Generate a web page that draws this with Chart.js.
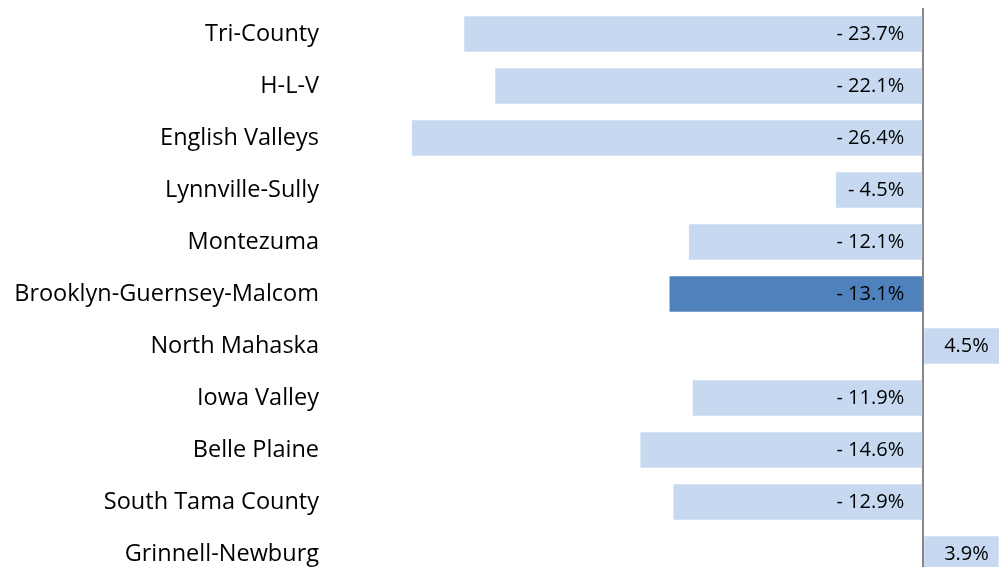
<!DOCTYPE html>
<html>
<head>
<meta charset="utf-8">
<script src="https://cdn.jsdelivr.net/npm/chart.js@4"></script>
<style>
  html, body { margin: 0; padding: 0; background: #fff; overflow: hidden; width: 999px; height: 567px; }
  .wrap { position: relative; width: 1020px; height: 580px; }
</style>
</head>
<body>
<div class="wrap"><canvas id="chart"></canvas></div>
<script>
// Data
const districts = ['Tri-County', 'H-L-V', 'English Valleys', 'Lynnville-Sully', 'Montezuma',
    'Brooklyn-Guernsey-Malcom', 'North Mahaska', 'Iowa Valley', 'Belle Plaine',
    'South Tama County', 'Grinnell-Newburg'];
const changePct = [-23.7, -22.1, -26.4, -4.5, -12.1, -13.1, 4.5, -11.9, -14.6, -12.9, 3.9];
const highlighted = 'Brooklyn-Guernsey-Malcom';

const lightBlue = '#c6d9f1';
const darkBlue = '#4f81bd';

// Value labels drawn inside the bars, next to the zero line
const valueLabels = {
    id: 'valueLabels',
    afterDatasetsDraw(chart) {
        const ctx = chart.ctx;
        const meta = chart.getDatasetMeta(0);
        ctx.save();
        ctx.font = '20px "Open Sans"';
        ctx.fillStyle = '#000';
        ctx.textBaseline = 'middle';
        meta.data.forEach((bar, i) => {
            const v = changePct[i];
            if (v < 0) {
                ctx.textAlign = 'right';
                ctx.fillText('- ' + Math.abs(v).toFixed(1) + '%', bar.base - 18, bar.y);
            } else {
                ctx.textAlign = 'left';
                ctx.fillText(v.toFixed(1) + '%', bar.base + 20, bar.y);
            }
        });
        ctx.restore();
    }
};

const ctx = document.getElementById('chart').getContext('2d');
new Chart(ctx, {
    type: 'bar',
    data: {
        labels: districts,
        datasets: [{
            data: changePct,
            backgroundColor: districts.map(d => d === highlighted ? darkBlue : lightBlue),
            categoryPercentage: 1,
            barPercentage: 0.68
        }]
    },
    options: {
        indexAxis: 'y',
        responsive: true,
        maintainAspectRatio: false,
        animation: false,
        layout: { padding: { top: 8, left: 0, right: 0, bottom: 0 } },
        plugins: {
            legend: { display: false },
            tooltip: { enabled: false }
        },
        scales: {
            x: {
                min: -26.4,
                max: 5,
                ticks: { display: false, stepSize: 5 },
                border: { display: false },
                grid: {
                    drawTicks: false,
                    lineWidth: 2,
                    color: c => c.tick && c.tick.value === 0 ? '#868686' : 'rgba(0,0,0,0)'
                }
            },
            y: {
                afterFit(scale) {
                    scale.width = 412;
                    scale.paddingTop = 0;
                    scale.paddingBottom = 0;
                },
                border: { display: false },
                grid: { display: false, drawTicks: false },
                ticks: {
                    padding: 93,
                    color: '#000',
                    font: { family: '"Open Sans"', size: 23.5 }
                }
            }
        }
    },
    plugins: [valueLabels]
});
</script>
</body>
</html>
